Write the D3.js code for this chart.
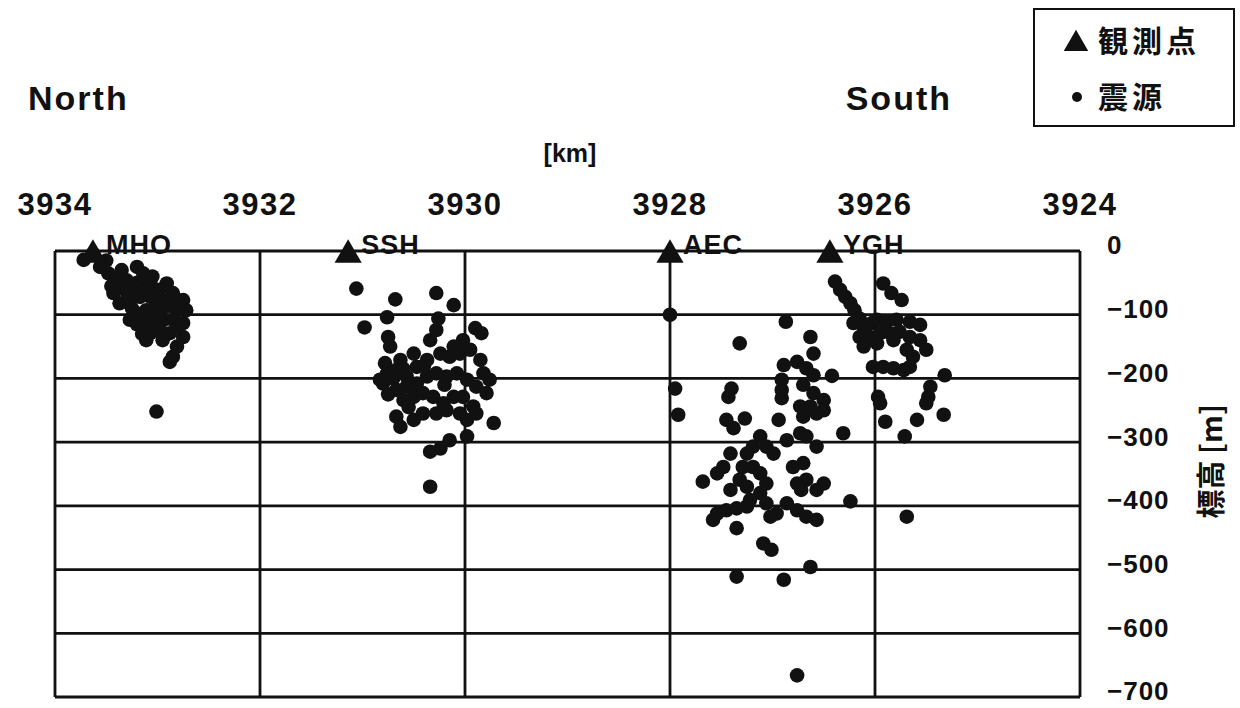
<!DOCTYPE html>
<html>
<head>
<meta charset="utf-8">
<script src="https://cdn.jsdelivr.net/npm/d3@7"></script>
<style>
  body { margin: 0; background: #fff; }
  svg { display: block; }
  text { fill: #111; }
</style>
</head>
<body>
<svg id="chart" width="1240" height="708"></svg>
<script>
// tick values
const xTicks = [3934, 3932, 3930, 3928, 3926, 3924]
const yTicks = [0, -100, -200, -300, -400, -500, -600, -700]

// stations (km along N-S line)
const stationNames = ["MHO", "SSH", "AEC", "YGH"]
const stationKm = [3933.63, 3931.14, 3928.0, 3926.44]

// hypocentres [km, elevation m]
const mhoQuakes = [
  [3933.72,-14],[3933.63,-4],[3933.56,-25],[3933.48,-35],[3933.40,-46],[3933.30,-46],
  [3933.20,-25],[3933.14,-35],[3933.07,-51],[3933.24,-61],[3933.43,-66],[3933.37,-82],
  [3933.27,-77],[3933.17,-72],[3933.07,-72],[3932.98,-61],[3932.91,-51],[3932.85,-66],
  [3932.75,-77],[3932.72,-93],[3932.81,-93],[3932.91,-87],[3933.01,-87],[3933.11,-93],
  [3933.20,-98],[3933.27,-108],[3933.14,-113],[3933.04,-108],[3932.94,-108],[3932.85,-108],
  [3932.75,-113],[3933.07,-129],[3933.11,-140],[3932.98,-124],[3932.88,-129],[3932.75,-135],
  [3932.81,-150],[3932.85,-166],[3932.88,-174],[3933.01,-252],[3933.37,-53],
  [3933.50,-15],[3933.45,-55],[3933.35,-30],[3933.30,-65],[3933.20,-50],[3933.10,-60],
  [3933.00,-75],[3932.90,-78],[3933.00,-100],[3933.10,-120],[3933.20,-115],[3932.95,-140],
  [3932.80,-120],[3933.05,-40],[3933.25,-90],[3932.80,-80],[3933.15,-130]
]
const sshQuakes = [
  [3931.06,-59],[3930.68,-76],[3930.28,-66],[3930.11,-85],[3930.98,-120],[3930.76,-104],
  [3930.26,-106],[3930.28,-124],[3929.90,-121],[3929.84,-129],[3930.02,-140],[3930.11,-150],
  [3930.34,-140],[3930.75,-135],[3930.73,-150],[3930.50,-161],[3930.63,-171],[3930.78,-176],
  [3930.76,-192],[3930.67,-187],[3930.57,-197],[3930.47,-182],[3930.37,-171],[3930.24,-161],
  [3930.15,-166],[3930.05,-161],[3929.95,-155],[3929.85,-171],[3929.82,-192],[3929.76,-202],
  [3929.89,-213],[3929.98,-202],[3930.08,-192],[3930.18,-197],[3930.28,-192],[3930.37,-197],
  [3930.47,-208],[3930.57,-213],[3930.67,-218],[3930.80,-208],[3930.83,-202],[3930.60,-234],
  [3930.50,-229],[3930.41,-223],[3930.31,-229],[3930.21,-239],[3930.11,-229],[3930.02,-229],
  [3929.92,-244],[3929.79,-223],[3930.67,-260],[3930.63,-276],[3930.50,-265],[3930.41,-255],
  [3930.28,-255],[3930.18,-250],[3930.05,-255],[3929.98,-265],[3929.89,-255],[3929.72,-270],
  [3929.98,-291],[3930.15,-297],[3930.24,-310],[3930.34,-315],[3930.34,-370],
  [3930.70,-200],[3930.60,-185],[3930.55,-245],[3930.40,-180],[3930.20,-210],[3930.75,-225]
]
const aecQuakes = [
  [3928.00,-100],[3926.87,-111],[3926.63,-135],[3927.32,-145],[3926.60,-161],[3926.89,-179],
  [3926.76,-174],[3926.67,-184],[3926.60,-195],[3926.42,-196],[3927.95,-216],[3927.40,-216],
  [3927.43,-229],[3926.91,-202],[3926.91,-218],[3926.91,-231],[3926.70,-210],[3926.60,-223],
  [3926.50,-234],[3926.63,-244],[3926.73,-244],[3926.70,-260],[3926.57,-255],[3926.50,-250],
  [3927.92,-257],[3927.45,-265],[3927.27,-263],[3927.38,-278],[3926.94,-265],[3926.31,-286],
  [3927.12,-291],[3927.06,-307],[3927.19,-307],[3927.25,-318],[3926.99,-318],[3926.86,-297],
  [3926.73,-286],[3926.67,-291],[3926.57,-307],[3927.41,-318],[3927.48,-339],[3927.54,-349],
  [3927.68,-362],[3927.29,-339],[3927.19,-339],[3927.12,-349],[3927.32,-359],[3927.41,-375],
  [3927.25,-370],[3927.06,-365],[3927.12,-380],[3927.22,-391],[3927.25,-401],[3927.35,-404],
  [3926.80,-339],[3926.70,-333],[3926.67,-359],[3926.76,-365],[3926.50,-365],[3926.57,-375],
  [3926.72,-375],[3926.24,-393],[3926.86,-396],[3926.76,-407],[3926.67,-417],[3926.57,-422],
  [3926.96,-412],[3927.02,-417],[3927.06,-396],[3927.54,-412],[3927.58,-422],[3927.45,-407],
  [3927.35,-435],[3927.09,-459],[3927.01,-469],[3926.63,-496],[3927.35,-511],[3926.89,-516],
  [3926.76,-666]
]
const yghQuakes = [
  [3926.39,-48],[3926.34,-61],[3926.29,-72],[3926.24,-82],[3926.20,-93],[3926.15,-106],
  [3925.92,-51],[3925.84,-66],[3925.74,-77],[3926.21,-113],[3926.11,-119],[3926.03,-113],
  [3925.98,-108],[3925.89,-111],[3925.79,-108],[3925.66,-111],[3925.56,-116],[3926.15,-135],
  [3926.05,-135],[3925.95,-129],[3925.85,-129],[3925.76,-127],[3925.66,-135],[3925.56,-140],
  [3925.50,-155],[3926.11,-150],[3925.98,-145],[3925.82,-140],[3925.69,-155],[3925.63,-166],
  [3926.02,-182],[3925.92,-182],[3925.82,-184],[3925.72,-187],[3925.66,-182],[3925.32,-195],
  [3925.46,-213],[3925.48,-229],[3925.50,-239],[3925.97,-229],[3925.95,-239],[3925.90,-268],
  [3925.59,-265],[3925.33,-257],[3925.71,-291],[3925.69,-417]
]

const svg = d3.select("#chart")
const latin = "'Liberation Sans', Arial, sans-serif"
const cjk = "'Noto Sans CJK JP', 'Noto Sans CJK SC', sans-serif"

let x = d3.scaleLinear().domain([3934, 3924]).range([55, 1080])
let y = d3.scaleLinear().domain([0, -700]).range([251, 697])

// grid
let grid = svg.append("g").attr("stroke", "#111").attr("stroke-width", 2.8).attr("fill", "none")
grid.selectAll("line.v").data(xTicks).enter().append("line")
    .attr("x1", d => x(d)).attr("x2", d => x(d))
    .attr("y1", y(0)).attr("y2", y(-700))
grid.selectAll("line.h").data(yTicks).enter().append("line")
    .attr("x1", x(3934)).attr("x2", x(3924))
    .attr("y1", d => y(d)).attr("y2", d => y(d))

// x tick labels on top
svg.append("g").selectAll("text").data(xTicks).enter().append("text")
    .attr("x", d => x(d)).attr("y", y(0) - 36)
    .attr("text-anchor", "middle")
    .style("font-family", latin).style("font-weight", "bold")
    .style("font-size", "31px").style("letter-spacing", "1.5px")
    .text(d => d)

// y tick labels on right
svg.append("g").selectAll("text").data(yTicks).enter().append("text")
    .attr("x", x(3924) + 27).attr("y", d => y(d) - 6)
    .attr("dy", "0.36em")
    .style("font-family", latin).style("font-weight", "bold").style("font-size", "26px")
    .style("letter-spacing", "1px")
    .text(d => d === 0 ? "0" : "\u2212" + Math.abs(d))

// axis titles
svg.append("text").attr("x", 28).attr("y", 110)
    .style("font-family", latin).style("font-weight", "bold").style("font-size", "34px")
    .style("letter-spacing", "2px")
    .text("North")
svg.append("text").attr("x", 952).attr("y", 110).attr("text-anchor", "end")
    .style("font-family", latin).style("font-weight", "bold").style("font-size", "34px")
    .style("letter-spacing", "2px")
    .text("South")
svg.append("text").attr("x", 570).attr("y", 162).attr("text-anchor", "middle")
    .style("font-family", latin).style("font-weight", "bold").style("font-size", "25px")
    .text("[km]")
svg.append("text")
    .attr("transform", "translate(1222," + y(-330) + ")rotate(-90)")
    .attr("text-anchor", "middle")
    .style("font-family", cjk).style("font-weight", "bold").style("font-size", "29px")
    .text("標高 [m]")

// hypocentres
let quakes = mhoQuakes.concat(sshQuakes, aecQuakes, yghQuakes)
svg.append("g").selectAll("circle").data(quakes).enter().append("circle")
    .attr("cx", d => x(d[0])).attr("cy", d => y(d[1]))
    .attr("r", 7.3).style("fill", "#111")

// stations
let tri = d3.symbol().type(d3.symbolTriangle).size(320)
let st = svg.append("g").selectAll("g").data(stationNames).enter().append("g")
st.append("path").attr("d", tri)
    .attr("transform", (d, i) => "translate(" + x(stationKm[i]) + "," + (y(0) + 4) + ")")
    .style("fill", "#111")
st.append("text")
    .attr("x", (d, i) => x(stationKm[i]) + 13).attr("y", y(0) + 3)
    .style("font-family", latin).style("font-weight", "bold").style("font-size", "27px")
    .style("letter-spacing", "1px")
    .text(d => d)

// legend
let lg = svg.append("g")
lg.append("rect").attr("x", 1034).attr("y", 9).attr("width", 200).attr("height", 117)
    .style("fill", "#fff").style("stroke", "#111").style("stroke-width", 2)
lg.append("path").attr("d", d3.symbol().type(d3.symbolTriangle).size(260))
    .attr("transform", "translate(1076,44)").style("fill", "#111")
lg.append("circle").attr("cx", 1077).attr("cy", 97).attr("r", 5).style("fill", "#111")
lg.append("text").attr("x", 1098).attr("y", 52)
    .style("font-family", cjk).style("font-weight", "bold").style("font-size", "30px")
    .style("letter-spacing", "4px")
    .text("観測点")
lg.append("text").attr("x", 1098).attr("y", 108)
    .style("font-family", cjk).style("font-weight", "bold").style("font-size", "30px")
    .style("letter-spacing", "4px")
    .text("震源")
</script>
</body>
</html>
